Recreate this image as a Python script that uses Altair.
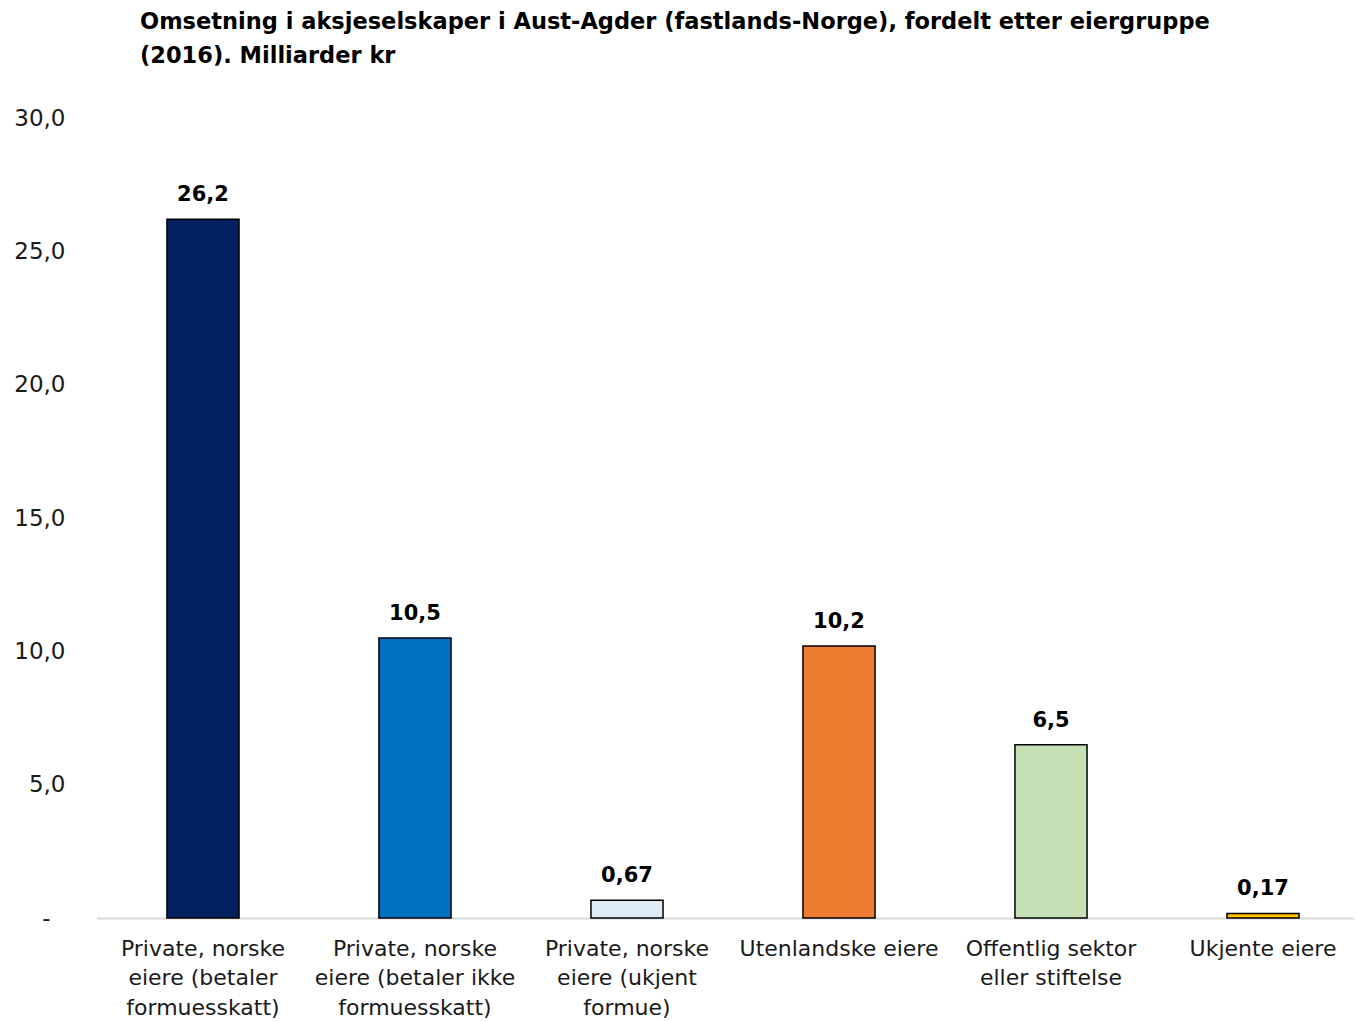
import altair as alt
import pandas as pd

categories = [
    "Private, norske|eiere (betaler|formuesskatt)",
    "Private, norske|eiere (betaler ikke|formuesskatt)",
    "Private, norske|eiere (ukjent|formue)",
    "Utenlandske eiere",
    "Offentlig sektor|eller stiftelse",
    "Ukjente eiere",
]
values = [26.2, 10.5, 0.67, 10.2, 6.5, 0.17]
labels = ["26,2", "10,5", "0,67", "10,2", "6,5", "0,17"]
colors = ["#002060", "#0070C0", "#DEEBF7", "#ED7D31", "#C5E0B4", "#FFC000"]
y_ticks = [0, 5, 10, 15, 20, 25, 30]

df = pd.DataFrame({"cat": categories, "value": values, "label": labels})

FONT = "DejaVu Sans"

x_enc = alt.X(
    "cat:N",
    sort=categories,
    scale=alt.Scale(paddingInner=0.66, paddingOuter=0.2946, align=0.56),
    axis=alt.Axis(
        title=None,
        labelExpr="split(datum.label, '|')",
        labelAngle=0,
        labelFont=FONT,
        labelFontSize=22,
        labelColor="#1a1a1a",
        labelLineHeight=29.5,
        labelBaseline="top",
        labelPadding=20,
        ticks=False,
        domainColor="#d9d9d9",
        domainWidth=2,
        labelLimit=300,
    ),
)

y_enc = alt.Y(
    "value:Q",
    scale=alt.Scale(domain=[0, 30], nice=False),
    axis=alt.Axis(
        title=None,
        values=y_ticks,
        labelExpr="datum.value == 0 ? '-' : replace(format(datum.value, '.1f'), '.', ',')",
        labelFont=FONT,
        labelFontSize=23,
        labelColor="#1a1a1a",
        labelPadding={"condition": {"test": "datum.value == 0", "value": 47}, "value": 32},
        ticks=False,
        domain=False,
        grid=False,
    ),
)

bars = alt.Chart(df).mark_bar(stroke="black", strokeWidth=1.5).encode(
    x=x_enc,
    y=y_enc,
    color=alt.Color("cat:N", sort=categories,
                    scale=alt.Scale(domain=categories, range=colors), legend=None),
)

text = alt.Chart(df).mark_text(
    font=FONT, fontSize=21, fontWeight="bold", color="black",
    baseline="alphabetic", dy=-18,
).encode(
    x=alt.X("cat:N", sort=categories),
    y="value:Q",
    text="label:N",
)

chart = (bars + text).properties(
    width=1257,
    height=800,
    background="white",
    autosize=alt.AutoSizeParams(type="none"),
    padding={"left": 89, "top": 110, "right": 0, "bottom": 106},
    title=alt.TitleParams(
        text=["Omsetning i aksjeselskaper i Aust-Agder (fastlands-Norge), fordelt etter eiergruppe",
              "(2016). Milliarder kr"],
        anchor="start",
        frame="group",
        dx=43,
        font=FONT,
        fontSize=22.5,
        fontWeight="bold",
        color="black",
        lineHeight=34,
        offset=40,
    ),
).configure_view(strokeWidth=0, stroke="transparent")

chart.save("out.html", embed_options={"renderer": "svg", "actions": False})
